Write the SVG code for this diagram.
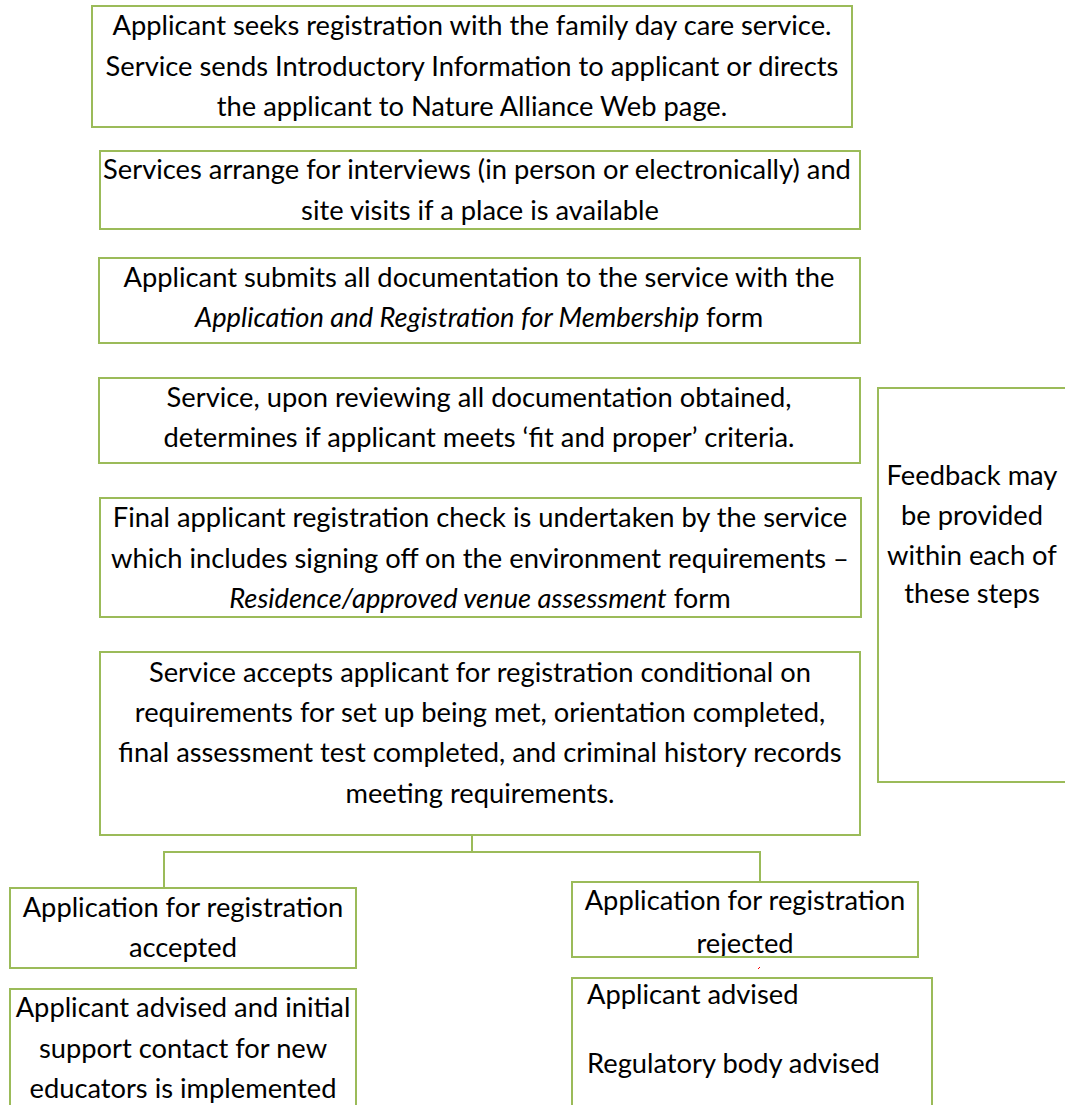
<svg xmlns="http://www.w3.org/2000/svg" width="1065" height="1105" viewBox="0 0 1065 1105">
<defs>
<style>
.box{fill:none;stroke:#9BBB59;stroke-width:2}
.t{font-family:Lato,"Liberation Sans",sans-serif;font-size:27.3px;fill:#000;text-anchor:middle}
.l{text-anchor:start}
.i{font-style:italic}
.con{fill:none;stroke:#9BBB59;stroke-width:2}
</style>
<clipPath id="clipRej"><rect x="572" y="882" width="346" height="75"/></clipPath>
</defs>
<rect x="0" y="0" width="1065" height="1105" fill="#fff"/>
<g id="connectors">
<path class="con" d="M472 835V852M164 888V852H760V882"/>
<path d="M758 969L760 967" stroke="#f00" stroke-width="1"/>
</g>
<g id="n1">
<text class="t" x="472" y="35">Applicant seeks registration with the family day care service.</text>
<text class="t" x="472" y="76">Service sends Introductory Information to applicant or directs</text>
<text class="t" x="472" y="116">the applicant to Nature Alliance Web page.</text>
<rect class="box" x="92" y="6" width="760" height="121"/>
</g>
<g id="n2">
<text class="t" x="477" y="179">Services arrange for interviews (in person or electronically) and</text>
<text class="t" x="480" y="220">site visits if a place is available</text>
<rect class="box" x="100" y="151" width="760" height="78"/>
</g>
<g id="n3">
<text class="t" x="479" y="287">Applicant submits all documentation to the service with the</text>
<text class="t" x="479" y="327"><tspan class="i">Application and Registration for Membership</tspan> form</text>
<rect class="box" x="99" y="258" width="761" height="85"/>
</g>
<g id="n4">
<text class="t" x="479" y="407">Service, upon reviewing all documentation obtained,</text>
<text class="t" x="479" y="447">determines if applicant meets ‘fit and proper’ criteria.</text>
<rect class="box" x="99" y="378" width="761" height="85"/>
</g>
<g id="n5">
<text class="t" x="480" y="527">Final applicant registration check is undertaken by the service</text>
<text class="t" x="480" y="568">which includes signing off on the environment requirements –</text>
<text class="t" x="480" y="608"><tspan class="i">Residence/approved venue assessment</tspan> form</text>
<rect class="box" x="100" y="498" width="761" height="119"/>
</g>
<g id="n6">
<text class="t" x="480" y="682">Service accepts applicant for registration conditional on</text>
<text class="t" x="480" y="722">requirements for set up being met, orientation completed,</text>
<text class="t" x="480" y="762">final assessment test completed, and criminal history records</text>
<text class="t" x="480" y="803">meeting requirements.</text>
<rect class="box" x="100" y="652" width="760" height="183"/>
</g>
<g id="feedback">
<text class="t" x="972" y="485">Feedback may</text>
<text class="t" x="972" y="525">be provided</text>
<text class="t" x="972" y="565">within each of</text>
<text class="t" x="972" y="603">these steps</text>
<rect class="box" x="878" y="388" width="200" height="394"/>
</g>
<g id="accepted">
<text class="t" x="183" y="917">Application for registration</text>
<text class="t" x="183" y="957">accepted</text>
<rect class="box" x="10" y="888" width="346" height="80"/>
</g>
<g id="acc-advised">
<text class="t" x="183" y="1017">Applicant advised and initial</text>
<text class="t" x="183" y="1058">support contact for new</text>
<text class="t" x="183" y="1098">educators is implemented</text>
<rect class="box" x="10" y="989" width="346" height="130"/>
</g>
<g id="rejected">
<g clip-path="url(#clipRej)">
<text class="t" x="745" y="910">Application for registration</text>
<text class="t" x="745" y="953">rejected</text>
</g>
<rect class="box" x="572" y="882" width="346" height="75"/>
</g>
<g id="rej-advised">
<text class="t l" x="587" y="1004">Applicant advised</text>
<text class="t l" x="587" y="1073">Regulatory body advised</text>
<rect class="box" x="572" y="978" width="360" height="140"/>
</g>
</svg>
